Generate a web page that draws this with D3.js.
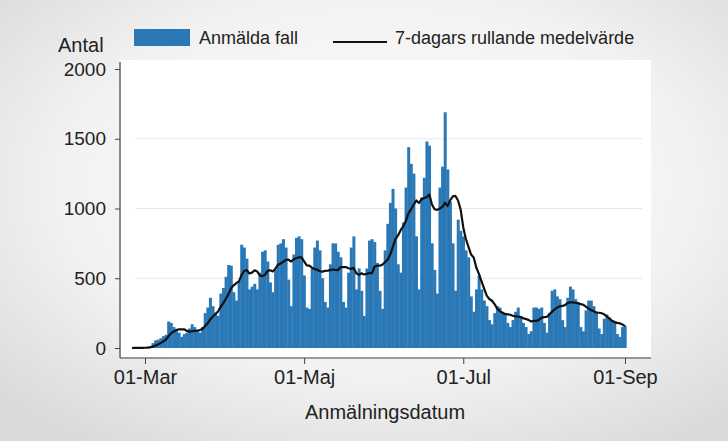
<!DOCTYPE html>
<html>
<head>
<meta charset="utf-8">
<title>Anmälda fall</title>
<script src="https://d3js.org/d3.v7.min.js"></script>
<style>
  body { margin: 0; background: #e8e8e8; }
  text { font-family: "Liberation Sans", Arial, sans-serif; fill: #222; }
</style>
</head>
<body>
<div id="chart"></div>
<script>
// Dagliga anmälda fall, per månad (start 25 feb)
const startDate = new Date(2020, 1, 25);
const feb = [0, 1, 1, 3, 2];
const mar = [3, 10, 15, 35, 55, 60, 70, 85, 95, 190, 180, 150, 130, 110, 80,
  100, 110, 140, 170, 150, 120, 110, 150, 250, 290, 360, 300, 250, 230, 390, 430];
const apr = [510, 595, 590, 400, 340, 480, 740, 720, 640, 420, 440, 460,
  420, 540, 690, 700, 620, 470, 400, 560, 740, 750, 780, 720, 490, 300,
  670, 790, 800, 780];
const maj = [520, 290, 280, 570, 720, 770, 700, 500, 330, 290,
  600, 750, 750, 690, 650, 330, 290, 540, 720, 800, 420, 570, 410, 230,
  570, 770, 780, 760, 610, 410, 280];
const jun = [700, 890, 1040, 1140, 1000, 600, 540, 900, 1150, 1440, 1320, 1250, 800, 420,
  1080, 1220, 1480, 1450, 750, 560, 390, 1150, 1300, 1690, 1280, 1050, 750, 410,
  920, 840];
const jul = [800, 700, 650, 370, 260, 420, 520, 420, 340, 300, 200, 170,
  250, 300, 290, 260, 240, 180, 150, 200, 260, 290, 230, 180, 150, 100,
  120, 290, 290, 280, 290];
const aug = [180, 110, 250, 410, 420, 370, 350, 200, 150, 360, 440, 420, 350, 330, 150, 120,
  270, 340, 340, 300, 260, 140, 100, 210, 240, 220, 200, 190, 100, 80, 150];
const sep = [160];

const tickDates = [new Date(2020, 2, 1), new Date(2020, 4, 1), new Date(2020, 6, 1), new Date(2020, 8, 1)];
const tickLabels = ["01-Mar", "01-Maj", "01-Jul", "01-Sep"];
const yTicks = [0, 500, 1000, 1500, 2000];

const W = 728, H = 441;
const barColor = "#2a78b6";

const cases = [].concat(feb, mar, apr, maj, jun, jul, aug, sep);
const data = cases.map((v, i) => ({ date: d3.timeDay.offset(startDate, i), value: v }));
// 7-dagars rullande medelvärde (bakåtblickande)
data.forEach((d, i) => { d.avg = d3.mean(cases.slice(Math.max(0, i - 6), i + 1)); });

const svg = d3.select("#chart").append("svg")
  .attr("width", W).attr("height", H);

// bakgrund
const defs = svg.append("defs");
const grad = defs.append("radialGradient").attr("id", "bg")
  .attr("cx", "52%").attr("cy", "42%").attr("r", "72%");
grad.append("stop").attr("offset", "0%").attr("stop-color", "#ffffff");
grad.append("stop").attr("offset", "60%").attr("stop-color", "#f2f2f2");
grad.append("stop").attr("offset", "100%").attr("stop-color", "#d9d9d9");
svg.append("rect").attr("width", W).attr("height", H).attr("fill", "url(#bg)");
svg.append("rect").attr("x", 121).attr("y", 60).attr("width", 530).attr("height", 297)
  .attr("fill", "#ffffff");

const x = d3.scaleTime()
  .domain([new Date(2020, 2, 1), new Date(2020, 8, 1)])
  .range([145, 625]);
const y = d3.scaleLinear().domain([0, 2000]).range([348, 69]);

// rutnät
svg.append("g").selectAll("line").data([500, 1000, 1500]).join("line")
  .attr("x1", 135).attr("x2", 642)
  .attr("y1", d => y(d)).attr("y2", d => y(d))
  .attr("stroke", "#e8e8e8").attr("stroke-width", 1);

// staplar
svg.append("g").selectAll("rect").data(data).join("rect")
  .attr("x", d => x(d.date) - (x(d3.timeDay.offset(d.date, 1)) - x(d.date)) / 2)
  .attr("width", d => x(d3.timeDay.offset(d.date, 1)) - x(d.date) + 0.4)
  .attr("y", d => y(d.value))
  .attr("height", d => y(0) - y(d.value))
  .attr("fill", barColor);

// linje
svg.append("path").datum(data)
  .attr("fill", "none").attr("stroke", "#111").attr("stroke-width", 2.2)
  .attr("stroke-linejoin", "round")
  .attr("d", d3.line().x(d => x(d.date)).y(d => y(d.avg)));

// axlar
svg.append("line").attr("x1", 120).attr("x2", 651).attr("y1", 358).attr("y2", 358)
  .attr("stroke", "#444").attr("stroke-width", 1.2);
svg.append("line").attr("x1", 120).attr("x2", 120).attr("y1", 62).attr("y2", 358)
  .attr("stroke", "#444").attr("stroke-width", 1.2);

const xAxis = svg.append("g").attr("transform", "translate(0,358)")
  .call(d3.axisBottom(x).tickValues(tickDates).tickFormat((d, i) => tickLabels[i]).tickSize(6).tickPadding(6));
xAxis.select(".domain").remove();
xAxis.selectAll("line").attr("stroke", "#444");
xAxis.selectAll("text").style("font-size", "20px").attr("fill", "#222");

const yAxis = svg.append("g").attr("transform", "translate(120,0)")
  .call(d3.axisLeft(y).tickValues(yTicks).tickFormat(d3.format("d")).tickSize(5).tickPadding(9));
yAxis.select(".domain").remove();
yAxis.selectAll("line").attr("stroke", "#444");
yAxis.selectAll("text").style("font-size", "19px").attr("fill", "#222");

svg.append("text").attr("x", 58).attr("y", 52).style("font-size", "20px").text("Antal");
svg.append("text").attr("x", 385).attr("y", 419).attr("text-anchor", "middle")
  .style("font-size", "20px").text("Anmälningsdatum");

// legend
const legend = svg.append("g");
legend.append("rect").attr("x", 134).attr("y", 29).attr("width", 56).attr("height", 17).attr("fill", barColor);
legend.append("text").attr("x", 199).attr("y", 44).style("font-size", "18px").text("Anmälda fall");
legend.append("line").attr("x1", 333).attr("x2", 387).attr("y1", 42).attr("y2", 42)
  .attr("stroke", "#111").attr("stroke-width", 2);
legend.append("text").attr("x", 395).attr("y", 44).style("font-size", "18px").text("7-dagars rullande medelvärde");
</script>
</body>
</html>
